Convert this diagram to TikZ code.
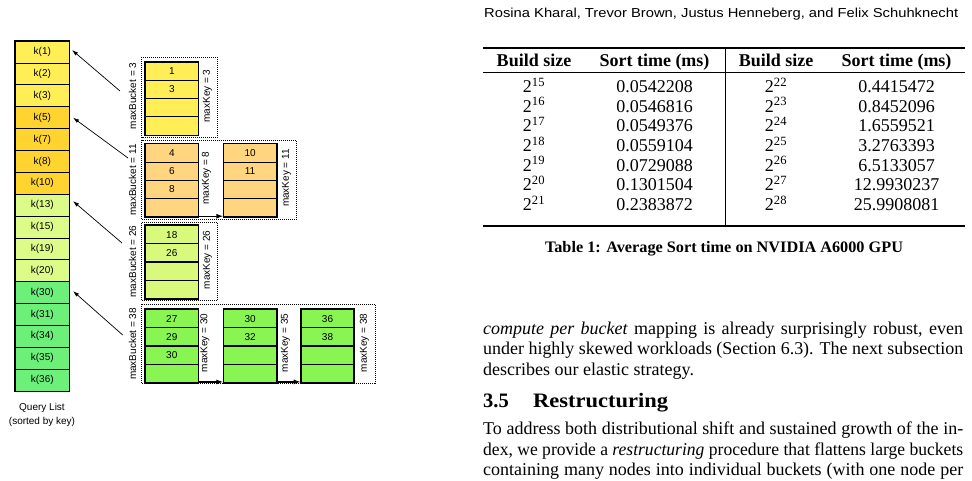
\documentclass[tikz,border=0pt]{standalone}
\usepackage{fontspec}
\setmainfont{Liberation Serif}
\setsansfont{Liberation Sans}
\usepackage{graphicx}
\usetikzlibrary{arrows.meta}

\definecolor{qyel}{HTML}{FFEE55}
\definecolor{qgold}{HTML}{FFD42E}
\definecolor{qlgreen}{HTML}{DDFB88}
\definecolor{qgreen}{HTML}{6CF07A}
\definecolor{byel}{HTML}{FFEE55}
\definecolor{borange}{HTML}{FFD580}
\definecolor{blgreen}{HTML}{D8F97C}
\definecolor{bgreen}{HTML}{88F553}

\newcommand\jline[2]{\sbox0{#2}\ifdim\wd0>#1\relax\resizebox{#1}{\height}{\usebox0}\else\makebox[#1][s]{#2}\fi}

\begin{document}
\begin{tikzpicture}[x=1pt,y=-1pt,
  dfont/.style={font=\sffamily\fontsize{10}{12}\selectfont},
  qcell/.style={draw, line width=0.9pt, minimum width=53.7pt, minimum height=21.87pt, inner sep=0pt, anchor=north west, dfont},
  bcell/.style={draw, line width=1.1pt, minimum width=52.5pt, minimum height=18.2pt, inner sep=0pt, anchor=north west, dfont},
  lbl/.style={rotate=90, inner sep=0pt, dfont},
  ptr/.style={-{Latex[length=6pt,width=4pt]}, line width=0.7pt},
  link/.style={-{Latex[length=7pt,width=5pt]}, line width=1.2pt},
  dotbox/.style={line width=0.8pt, dash pattern=on 1pt off 1pt},
  thead/.style={anchor=base, inner sep=0pt, font=\bfseries\fontsize{18}{21}\selectfont},
  tcell/.style={anchor=base, inner sep=0pt, font=\fontsize{18}{21}\selectfont},
  body/.style={anchor=base west, inner sep=0pt, font=\fontsize{18}{21}\selectfont}]
\useasboundingbox (0,0) rectangle (972,480);

% ---------- query list ----------
\foreach \i/\t/\c in {1/k(1)/qyel, 2/k(2)/qyel, 3/k(3)/qyel, 4/k(5)/qgold, 5/k(7)/qgold, 6/k(8)/qgold, 7/k(10)/qgold, 8/k(13)/qlgreen, 9/k(15)/qlgreen, 10/k(19)/qlgreen, 11/k(20)/qlgreen, 12/k(30)/qgreen, 13/k(31)/qgreen, 14/k(34)/qgreen, 15/k(35)/qgreen, 16/k(36)/qgreen}
  \node[qcell, fill=\c] (q\i) at (15, {40.7+(\i-1)*21.87}) {\t};
\draw[line width=1.4pt] (q1.north west) rectangle (q16.south east);
\node[dfont, inner sep=0pt] (ql1) at (42,408) {Query List};
\node[dfont, inner sep=0pt] (ql2) at (42,421.5) {(sorted by key)};

% ---------- dotted group boxes ----------
\draw[dotbox] (141.7,57.3) rectangle (217.3,137.7);
\draw[dotbox] (141.7,140) rectangle (296.7,219.3);
\draw[dotbox] (141.7,222.7) rectangle (217.3,300.7);
\draw[dotbox] (141.7,304) rectangle (375.7,383.8);

% ---------- buckets ----------
\foreach \n/\x/\y/\c/\a/\b/\e in {b1/145/61.7/byel/1/3/{}, b2a/145/143.3/borange/4/6/8, b2b/223.3/143.3/borange/10/11/{}, b3/145/225/blgreen/18/26/{}, b4a/145/309/bgreen/27/29/30, b4b/223.3/309/bgreen/30/32/{}, b4c/300.7/309/bgreen/36/38/{}}{
  \node[bcell, fill=\c] (\n-1) at (\x,\y) {\a};
  \node[bcell, fill=\c] (\n-2) at (\x,{\y+18.2}) {\b};
  \node[bcell, fill=\c] (\n-3) at (\x,{\y+36.4}) {\e};
  \node[bcell, fill=\c] (\n-4) at (\x,{\y+54.6}) {};
  \draw[line width=1.5pt] (\n-1.north west) rectangle (\n-4.south east);
}
\draw[link] ([yshift=1pt]b2a-4.south east) -- ([yshift=1pt]b2b-4.south west);
\draw[link] ([yshift=1pt]b4a-4.south east) -- ([yshift=1pt]b4b-4.south west);
\draw[link] ([yshift=1pt]b4b-4.south east) -- ([yshift=1pt]b4c-4.south west);

% ---------- labels ----------
\node[lbl] (mb1) at (132.5,96) {maxBucket = 3};
\node[lbl] (mb2) at (132.5,180) {maxBucket = 11};
\node[lbl] (mb3) at (132.5,261.5) {maxBucket = 26};
\node[lbl] (mb4) at (132.5,344) {maxBucket = 38};
\node[lbl] (mk1) at (207.3,96) {maxKey = 3};
\node[lbl] (mk2) at (206.5,178) {maxKey = 8};
\node[lbl] (mk3) at (286.5,178) {maxKey = 11};
\node[lbl] (mk4) at (207.3,260) {maxKey = 26};
\node[lbl] (mk5) at (205,343) {maxKey = 30};
\node[lbl] (mk6) at (285.5,343) {maxKey = 35};
\node[lbl] (mk7) at (364.5,343) {maxKey = 38};

% ---------- pointers ----------
\coordinate (t1) at (120,91);
\coordinate (t2) at (128,158);
\coordinate (t3) at (122,243);
\coordinate (t4) at (122.7,335);
\draw[ptr] (t1) -- ([xshift=2.5pt,yshift=2pt]q1.east);
\draw[ptr] (t2) -- ([xshift=3.5pt]q4.east);
\draw[ptr] (t3) -- ([xshift=3.5pt,yshift=4pt]q8.east);
\draw[ptr] (t4) -- ([xshift=3.5pt,yshift=1.5pt]q12.east);

% ---------- running header ----------
\node[anchor=base west, inner sep=0pt, font=\sffamily\fontsize{13}{15}\selectfont] (hdr) at (484,17.5)
  {\resizebox{474pt}{\height}{Rosina Kharal, Trevor Brown, Justus Henneberg, and Felix Schuhknecht}};

% ---------- table ----------
\draw[line width=1.3pt] (483,48) -- (965,48);
\draw[line width=0.7pt] (483,72) -- (965,72);
\draw[line width=1.3pt] (483,226) -- (965,226);
\draw[line width=0.7pt] (725,48) -- (725,226);
\node[thead] (h1) at (534,66.5) {Build size};
\node[thead] (h2) at (654.5,66.5) {Sort time (ms)};
\node[thead] (h3) at (776,66.5) {Build size};
\node[thead] (h4) at (896.5,66.5) {Sort time (ms)};
\foreach \i/\a/\b/\c/\d in {0/15/0.0542208/22/0.4415472, 1/16/0.0546816/23/0.8452096, 2/17/0.0549376/24/1.6559521, 3/18/0.0559104/25/3.2763393, 4/19/0.0729088/26/6.5133057, 5/20/0.1301504/27/12.9930237, 6/21/0.2383872/28/25.9908081}{
  \node[tcell] (r\i-1) at (534,{92.5+19.65*\i}) {2\textsuperscript{\a}};
  \node[tcell] (r\i-2) at (654.5,{92.5+19.65*\i}) {\b};
  \node[tcell] (r\i-3) at (776,{92.5+19.65*\i}) {2\textsuperscript{\c}};
  \node[tcell] (r\i-4) at (896.5,{92.5+19.65*\i}) {\d};
}
\node[anchor=base, inner sep=0pt, font=\bfseries\fontsize{16}{19}\selectfont] (cap) at (724,252)
  {\resizebox{358pt}{\height}{Table 1: Average Sort time on NVIDIA A6000 GPU}};

% ---------- body text ----------
\node[body] (l1) at (483,334) {\jline{480pt}{\textit{compute per bucket} mapping is already surprisingly robust, even}};
\node[body] (l2) at (483,354.5) {\jline{480pt}{under highly skewed workloads (Section 6.3). The next subsection}};
\node[body] (l3) at (483,375) {describes our elastic strategy.};
\node[anchor=base west, inner sep=0pt, font=\bfseries\fontsize{20.5}{24}\selectfont] (s1) at (483,407) {3.5};
\node[anchor=base west, inner sep=0pt, font=\bfseries\fontsize{20.5}{24}\selectfont] (s2) at (533,407) {\resizebox{135pt}{\height}{Restructuring}};
\node[body] (l4) at (483,434.5) {\jline{480pt}{To address both distributional shift and sustained growth of the in-}};
\node[body] (l5) at (483,455) {\jline{480pt}{dex, we provide a \textit{restructuring} procedure that flattens large buckets}};
\node[body] (l6) at (483,475.5) {\jline{480pt}{containing many nodes into individual buckets (with one node per}};
\end{tikzpicture}
\end{document}
